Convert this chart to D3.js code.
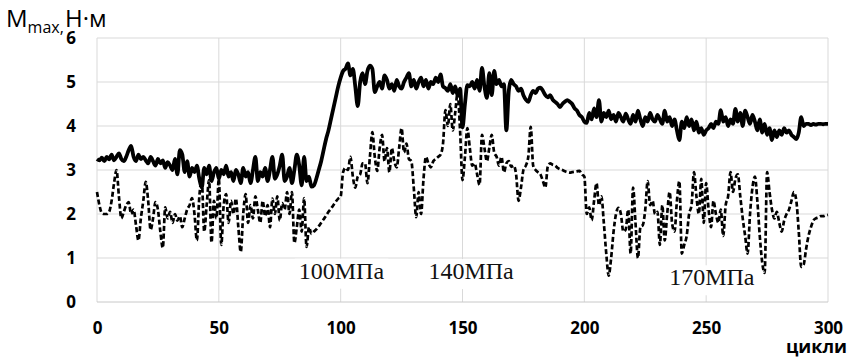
<!DOCTYPE html>
<html><head><meta charset="utf-8">
<script src="https://cdn.jsdelivr.net/npm/d3@7"></script>
<style>body{margin:0;background:#fff}svg{display:block}</style>
</head><body>
<svg id="c" width="849" height="359"></svg>
<script>
const xTicks = [0, 50, 100, 150, 200, 250, 300];
const yTicks = [0, 1, 2, 3, 4, 5, 6];
const stressLabels = [
  {text: "100МПа", cycle: 82.8, v: 0.53},
  {text: "140МПа", cycle: 136, v: 0.52},
  {text: "170МПа", cycle: 234.8, v: 0.38}
];
// M_max, solid series (one value per cycle 0..300)
const mSolid = [
3.25,3.22,3.28,3.2,3.3,3.24,3.35,3.22,3.3,3.38,
3.25,3.2,3.3,3.45,3.55,3.3,3.2,3.35,3.25,3.3,
3.22,3.15,3.3,3.2,3.1,3.25,3.15,3.22,3.05,3.18,
3.1,3.0,3.25,2.9,3.45,3.35,2.95,3.2,2.85,3.05,
2.95,3.1,2.8,2.6,3.05,2.9,3.1,2.75,2.95,3.05,
2.8,3.0,2.9,3.1,2.85,2.95,2.75,3.0,2.9,2.7,
3.05,2.85,2.95,2.7,3.0,3.3,2.75,2.95,2.85,3.05,
2.75,3.0,3.3,2.8,2.9,3.1,3.35,2.75,2.85,3.05,
2.7,3.0,3.35,3.1,2.65,3.3,2.75,2.85,2.62,2.65,
2.8,3.0,3.2,3.45,3.7,3.9,4.15,4.4,4.65,4.9,
5.1,5.25,5.3,5.42,5.15,5.3,4.9,4.45,5.0,5.2,
4.95,5.25,5.37,5.3,4.77,4.9,5.0,4.85,5.15,5.05,
4.85,4.95,4.8,5.05,4.9,4.85,5.0,5.1,5.2,4.9,
5.05,4.85,5.0,5.1,4.9,5.05,4.85,5.0,4.95,5.1,
5.0,5.17,4.9,4.86,4.8,4.95,4.75,4.9,4.7,4.85,
3.97,4.5,4.93,4.9,5.0,4.85,5.05,4.8,5.32,4.9,
4.64,5.2,4.7,5.25,4.95,5.05,4.9,4.95,3.9,4.8,
5.05,4.95,4.9,4.8,4.85,4.7,4.6,4.55,4.7,4.8,
4.75,4.85,4.87,4.8,4.7,4.65,4.7,4.6,4.55,4.5,
4.43,4.5,4.55,4.59,4.55,4.5,4.4,4.35,4.25,4.2,
4.1,4.07,4.3,4.15,4.4,4.2,4.59,4.1,4.3,4.2,
4.35,4.15,4.25,4.1,4.3,4.2,4.1,4.28,4.15,4.05,
4.25,4.1,4.35,4.15,4.0,4.2,4.1,4.3,4.15,4.1,
4.25,4.15,4.05,4.35,4.1,4.2,4.0,4.15,3.9,3.68,
4.1,3.95,4.2,4.0,4.15,3.9,4.1,3.85,3.95,3.8,
3.9,3.95,4.05,3.95,4.1,4.05,4.36,4.1,4.2,4.0,
4.15,4.05,4.39,4.1,4.3,4.0,4.35,4.2,4.05,4.25,
4.1,3.9,4.15,3.85,4.05,3.8,3.95,3.68,3.9,3.75,
3.9,3.8,3.95,3.85,3.9,3.8,3.75,3.7,3.85,4.2,
4.0,4.05,4.05,4.02,4.05,4.03,4.05,4.05,4.04,4.05,4.05
];
// dashed series (one value per cycle 0..300)
const mDashed = [
2.5,2.2,2.02,2.0,2.0,2.05,2.3,2.7,3.0,2.4,
1.9,2.05,2.2,2.27,2.0,2.1,1.75,1.4,1.9,2.3,
2.73,2.3,1.64,1.9,2.27,2.1,1.6,1.23,2.15,1.9,
2.05,1.8,2.0,1.85,1.95,1.7,1.9,2.1,2.2,2.36,
2.0,1.4,2.4,2.77,1.6,2.2,2.77,1.35,2.3,1.9,
2.8,1.3,2.2,2.45,1.8,2.3,2.0,2.35,1.7,1.14,
2.0,2.45,1.8,2.2,1.9,2.4,2.1,1.8,2.3,1.95,
2.2,1.7,2.35,2.0,2.4,1.85,2.25,2.1,2.5,2.0,
2.5,1.34,1.7,2.1,1.6,2.36,1.25,1.7,1.55,1.6,
1.65,1.72,1.8,1.88,1.96,2.05,2.12,2.2,2.28,2.35,
2.4,2.95,3.05,3.0,3.3,2.85,2.6,2.85,2.9,3.15,
3.15,2.7,3.3,3.86,3.3,2.98,3.5,3.8,3.2,3.5,
2.95,3.5,3.2,3.06,3.5,3.95,3.4,3.6,3.25,3.2,
2.6,1.93,2.5,2.0,2.8,3.3,3.15,3.06,3.2,3.25,
3.3,3.35,3.6,4.36,4.0,4.5,3.9,4.3,4.75,3.9,
2.77,3.3,3.95,3.5,3.1,3.15,2.9,2.66,3.8,3.5,
3.2,3.5,3.8,3.4,3.3,3.1,3.3,2.95,3.15,3.2,
3.07,3.1,2.9,2.3,2.6,3.0,3.1,3.3,3.98,3.1,
3.0,2.95,2.9,2.75,2.6,3.08,3.15,3.12,3.1,3.05,
3.02,3.0,2.97,2.95,2.94,2.95,2.96,2.97,2.98,2.9,
2.85,2.0,2.15,1.86,2.3,2.7,2.2,2.4,1.8,1.1,
0.6,1.0,1.6,2.0,2.14,2.0,1.6,1.65,2.1,1.1,
2.6,1.8,1.0,1.7,1.75,2.1,2.75,2.2,2.3,2.0,
2.05,1.3,2.2,1.4,2.0,2.5,1.8,1.6,2.3,2.75,
1.1,1.3,1.5,2.0,2.2,2.95,2.4,2.0,2.8,1.8,
2.7,2.1,1.7,2.3,2.0,1.8,2.1,1.5,2.2,2.4,
2.95,2.5,2.8,2.9,2.4,1.9,1.5,1.1,2.0,2.6,
2.85,2.3,1.5,0.9,0.66,2.95,2.5,2.1,1.9,2.05,
1.8,1.6,1.85,2.0,2.1,2.3,2.5,2.3,1.6,0.8,
0.85,1.2,1.5,1.7,1.85,1.9,1.92,1.95,1.95,1.97,1.98
];
const cycles = d3.range(0, 301);

const svg = d3.select("#c");
const x = d3.scaleLinear().domain([0, 300]).range([97, 828]);
const y = d3.scaleLinear().domain([0, 6]).range([302, 38]);
const grid = "#d9d9d9";
const g = svg.append("g");

// gridlines
g.selectAll(".hg").data(yTicks.slice(1)).enter().append("line")
  .attr("x1", x(0)).attr("x2", x(300)).attr("y1", d => y(d)).attr("y2", d => y(d))
  .attr("stroke", grid).attr("stroke-width", 1);
g.selectAll(".vg").data(xTicks).enter().append("line")
  .attr("x1", d => x(d)).attr("x2", d => x(d)).attr("y1", y(0)).attr("y2", y(6))
  .attr("stroke", grid).attr("stroke-width", 1);
g.append("line").attr("x1", x(0)).attr("x2", x(300)).attr("y1", y(0)).attr("y2", y(0))
  .attr("stroke", "#c8c8c8").attr("stroke-width", 1);

// lines
const line = (arr) => d3.line().x((d, i) => x(cycles[i])).y(d => y(d)).curve(d3.curveMonotoneX)(arr);
g.append("path").attr("d", line(mDashed)).attr("fill", "none").attr("stroke", "#000")
  .attr("stroke-width", 2.7).attr("stroke-dasharray", "5,2.6");
g.append("path").attr("d", line(mSolid)).attr("fill", "none").attr("stroke", "#000")
  .attr("stroke-width", 3.8).attr("stroke-linejoin", "round");

// axes (labels only)
const xa = svg.append("g").attr("transform", `translate(0,${y(0)})`)
  .call(d3.axisBottom(x).tickValues(xTicks).tickSize(0).tickPadding(20));
xa.select(".domain").remove();
xa.selectAll("text").attr("font-family", "Open Sans").attr("font-weight", "bold")
  .attr("font-size", 17).attr("fill", "#000");
const ya = svg.append("g").attr("transform", `translate(${x(0)},0)`)
  .call(d3.axisLeft(y).tickValues(yTicks).tickSize(0).tickPadding(21).tickFormat(d3.format("d")));
ya.select(".domain").remove();
ya.selectAll("text").attr("font-family", "Open Sans").attr("font-weight", "bold")
  .attr("font-size", 17).attr("fill", "#000");

// stress labels with white boxes
stressLabels.forEach(l => {
  const t = svg.append("text").attr("x", x(l.cycle)).attr("y", y(l.v))
    .attr("font-family", "Liberation Serif").attr("font-size", 24).attr("fill", "#111")
    .text(l.text);
  const b = t.node().getBBox();
  svg.insert("rect", () => t.node()).attr("x", b.x - 4).attr("y", b.y + 1)
    .attr("width", b.width + 8).attr("height", b.height + 4).attr("fill", "#fff");
});

// axis titles
const title = svg.append("text").attr("x", 6).attr("y", 27)
  .attr("font-family", "Open Sans").attr("font-size", 24).attr("fill", "#000");
title.append("tspan").text("M");
title.append("tspan").attr("font-size", 16).attr("dy", 6).text("max,");
title.append("tspan").attr("x", 65).attr("dy", -6).text("Н·м");
svg.append("text").attr("x", 847).attr("y", 353).attr("text-anchor", "end")
  .attr("font-family", "Open Sans").attr("font-weight", "bold").attr("font-size", 18)
  .attr("fill", "#000").text("цикли");
</script>
</body></html>
